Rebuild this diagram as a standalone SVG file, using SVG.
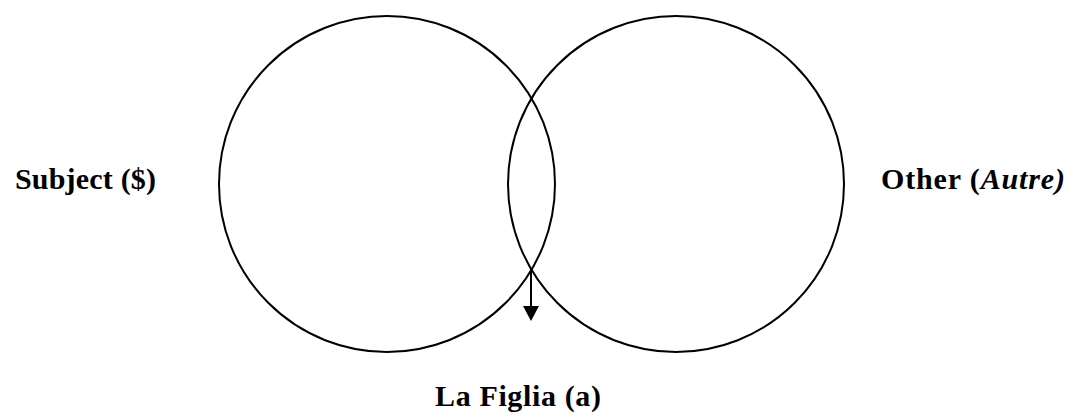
<svg xmlns="http://www.w3.org/2000/svg" width="1070" height="417" viewBox="0 0 1070 417">
<style>
.c{fill:none;stroke:#000;stroke-width:2}
.t{font-family:"Liberation Serif","Times New Roman",serif;font-weight:bold;font-size:30px;fill:#000}
</style>
<rect width="1070" height="417" fill="#fff"/>
<g id="subject">
<circle class="c" cx="387" cy="184" r="168"/>
<text class="t" x="15" y="189" textLength="141" lengthAdjust="spacing">Subject ($)</text>
</g>
<g id="other">
<circle class="c" cx="676" cy="184" r="168"/>
<text class="t" x="881" y="189" textLength="184" lengthAdjust="spacing">Other (<tspan font-style="italic">Autre)</tspan></text>
</g>
<g id="lafiglia">
<text class="t" x="435" y="406" textLength="166" lengthAdjust="spacing">La Figlia (a)</text>
</g>
<g id="connectors">
<line x1="531" y1="269" x2="531" y2="306" stroke="#000" stroke-width="2"/>
<path d="M523,306 L539,306 L531,321 Z" fill="#000"/>
</g>
</svg>
